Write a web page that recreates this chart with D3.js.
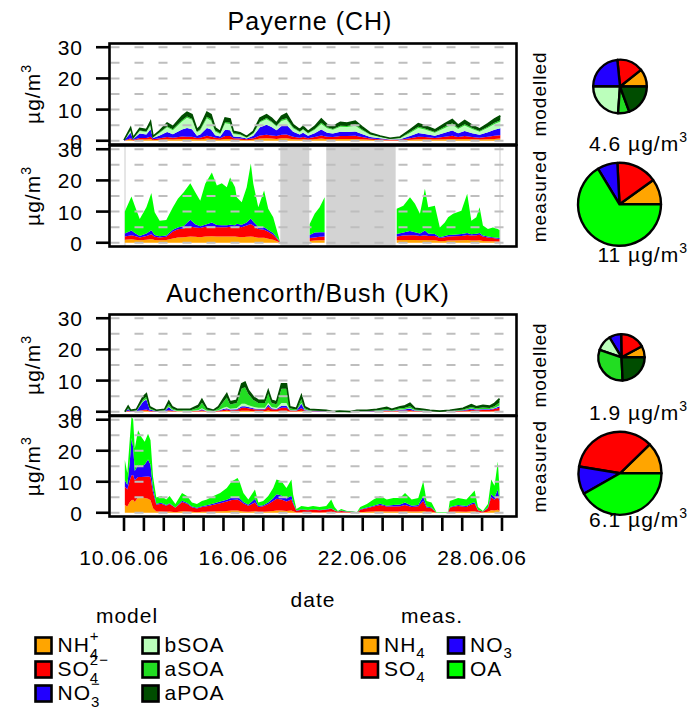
<!DOCTYPE html>
<html><head><meta charset="utf-8">
<script src="https://cdn.jsdelivr.net/npm/d3@7"></script>
<style>
body{margin:0;background:#fff}
text{font-family:"Liberation Sans",Arial,Helvetica,sans-serif;letter-spacing:1px;fill:#000}
</style></head>
<body><svg id="c" width="693" height="711"></svg>
<script>
// ---------- DATA (hours since 10.06.06 00:00 UTC, values in µg/m3) ----------
const dayTicks = [10,11,12,13,14,15,16,17,18,19,20,21,22,23,24,25,26,27,28,29];
const dayLabels = ["10.06.06","16.06.06","22.06.06","28.06.06"];
const yTicks = [0,10,20,30];
const gridVals = [0,5,10,15,20,25,30];

// Payerne modelled
const payModH = [0,8,11,19,27,32,35,43,52,59,70,76,82,88,92,100,105,110,116,122,128,132,140,148,156,164,172,178,184,190,196,204,212,216,222,230,238,245,252,261,269,279,287,297,309,321,333,345,355,363,375,387,396,403,411,420,429,439,447,454];
const payModNH4 = [0,.4,.1,.4,.4,.6,.2,.3,.5,.4, .6,.6,.6,.4,.4,.7,.6,.4,.3,.6, .6,.3,.3,.2,.3,.7,.8,.7,.6,.8, .8,.5,.4,.5,.3,.5,.7,.5,.5,.6, .6,.6,.5,.3,.2,.1,.1,.3,.5,.5, .4,.5,.6,.5,.6,.5,.4,.5,.6,.7];
const payModSO4 = [0,.4,.2,.5,.5,.7,.3,.5,.7,.6, .8,.7,.7,.5,.6,.9,.8,.6,.5,.9, .9,.5,.4,.3,.5,1.0,1.1,1.0,.9,1.1, 1.2,.8,.6,.7,.5,.7,1.0,.8,.7,.9, .9,1.0,.7,.4,.3,.2,.2,.5,.8,.7, .5,.8,1.0,.7,.9,.7,.6,.8,1.0,1.1];
const payModNO3 = [.1,1.8,.3,1.4,1.1,2.4,.4,.9,1.6,1.1, 2.2,2.8,2.4,.7,1.0,2.5,2.2,.8,.6,2.0, 1.9,.6,.5,.2,.8,2.6,3.2,2.7,1.9,2.8, 3.1,1.6,1.0,1.4,.8,1.2,1.9,1.3,1.1,1.4, 1.3,1.4,1.0,.5,.3,.1,.2,.7,1.2,1.0, .7,1.3,1.7,1.2,1.6,1.2,.9,1.4,1.9,2.2];
const payModbSOA = [.05,.7,.2,.8,.8,1.3,.2,.8,1.5,1.3, 2.6,3.3,3.0,1.1,1.4,3.1,2.8,1.2,.8,2.1, 2.0,.8,.7,.3,.7,1.6,1.8,1.5,1.2,1.6, 1.7,1.1,.8,1.0,.7,1.1,1.8,1.4,1.2,1.6, 1.6,1.8,1.2,.7,.4,.2,.3,1.0,1.6,1.4, 1.0,1.5,1.9,1.4,1.8,1.4,1.0,1.5,1.9,2.2];
const payModaSOA = [0,.2,.05,.2,.2,.3,.1,.2,.3,.3, .4,.4,.4,.2,.3,.5,.5,.3,.2,.4, .4,.2,.2,.1,.2,.3,.4,.3,.2,.4, .4,.3,.2,.2,.2,.3,.4,.3,.3,.3, .3,.4,.3,.1,.1,.05,.1,.3,.4,.3, .2,.4,.4,.3,.4,.3,.2,.3,.4,.4];
const payModaPOA = [.05,.7,.15,.7,.6,.9,.2,.5,1.1,.9, 1.3,1.4,1.3,.7,.9,1.5,1.5,.8,.6,1.3, 1.2,.6,.5,.3,.5,1.1,1.1,1.1,.9,1.2, 1.5,.9,.6,.8,.5,.8,1.2,.9,.8,1.1, 1.0,1.1,.8,.5,.2,.15,.3,.7,1.0,.9, .7,1.0,1.2,.9,1.2,.9,.7,1.0,1.2,1.4];

// Payerne measured (null = no data)
const payMeasH = [1,9,13,19,27,33,37,43,51,59,65,72,80,86,92,98,106,112,118,124,128,134,136,142,148,153,156,162,169,174,180,188,200,224,230,236,242,285,329,337,345,351,357,363,367,375,381,387,391,397,407,414,419,425,429,433,439,445,451,453];
const payMeasNH4 = [1.0,1.1,1.0,0.8,1.0,1.2,0.9,0.8,0.9,1.4, 1.7,1.8,2.0,1.9,1.8,2.0,2.1,2.0,2.0,2.0, 2.0,2.0,1.9,1.8,1.9,2.0,1.9,1.6,1.6,1.3, 1.0,0.1,null,0.6,0.7,0.8,0.8,null,0.8,0.9, 0.9,0.9,0.8,0.9,0.8,0.8,0.5,0.6,0.7,0.7, 0.8,0.9,0.7,0.7,0.8,0.6,0.5,0.5,0.4,0.4];
const payMeasSO4 = [1.0,1.3,1.2,0.9,1.2,1.5,1.0,0.9,1.0,2.2, 2.6,2.8,3.2,3.0,2.9,3.1,3.2,3.0,3.0,3.0, 3.1,3.0,3.4,3.2,3.6,4.0,3.6,2.8,2.6,2.2, 1.6,0.2,null,0.9,1.0,1.1,1.2,null,1.2,1.4, 1.5,1.5,1.4,1.5,1.4,1.4,1.0,1.2,1.3,1.4, 1.4,1.6,1.6,1.7,1.8,1.4,1.2,1.0,0.9,0.8];
const payMeasNO3 = [1.0,1.5,0.9,0.5,0.8,1.3,0.6,0.4,0.4,0.6, 0.6,0.8,2.2,1.0,0.6,0.7,1.2,0.7,0.6,0.6, 0.7,0.6,0.8,0.8,1.0,1.8,1.2,0.7,0.8,0.6, 0.5,0.1,null,1.0,1.6,1.5,1.4,null,0.8,1.0, 1.4,1.0,0.8,1.5,0.8,0.6,0.3,0.4,0.5,0.5, 0.6,0.6,0.4,0.5,0.5,0.3,0.3,0.3,0.3,0.3];
const payMeasOA = [7.0,10.9,8.8,5.4,8.4,12.0,7.3,5.0,5.0,7.2, 9.2,10.8,11.7,10.3,8.2,13.1,16.0,12.7,13.5,12.2, 15.1,12.2,8.5,7.2,11.3,17.6,12.2,6.3,11.8,6.8, 5.1,0.2,null,3.5,6.0,8.0,11.2,null,8.1,8.6, 10.8,9.1,6.3,13.4,8.4,9.1,3.1,4.3,5.7,6.7, 7.5,12.6,4.4,5.3,8.3,3.2,2.4,3.1,2.8,2.5];
const payMeasGaps = [[188.5,223.5],[244,327.7]];

// Auchencorth modelled
const aucModH = [1,5,8,15,23,27,31,39,49,54,58,64,80,90,94,100,108,114,120,124,128,136,142,146,150,156,162,170,174,178,184,190,196,200,208,214,218,224,244,252,260,273,281,293,305,317,323,333,338,345,351,361,369,381,393,409,419,425,433,441,447,453];
const aucModNH4 = [0,.1,0,.05,.3,.3,.1,0,.05,.2, .1,.05,.05,.1,.2,.05,0,.1,.2,.3, .2,.2,.3,.3,.3,.2,.2,.2,.4,.2, .2,.3,.3,.1,.1,.3,.1,.05,0,0, 0,0,0,0,.05,.1,.05,.1,.1,.15, .05,.05,0,0,0,.05,.15,.1,.1,.1, .15,.3];
const aucModSO4 = [0,.2,.1,.1,.3,.4,.2,.1,.1,.3, .2,.1,.1,.2,.3,.1,.1,.2,.4,.5, .3,.4,1.0,1.0,.8,.6,.5,.5,1.3,.6, .5,1.0,1.0,.3,.2,.8,.3,.15,.1,0, .05,0,.1,.1,.15,.2,.15,.3,.3,.4, .2,.15,.1,.05,.1,.3,.5,.4,.5,.5, .7,1.0];
const aucModNO3 = [0,.6,.1,.1,2.6,3.2,.4,.05,.1,1.0, .3,.05,.05,.1,.3,.05,0,.1,.3,.3, .2,.2,.5,.5,.4,.3,.2,.2,.6,.3, .2,.6,.6,.1,.1,1.5,.2,.1,.05,0, 0,0,.05,.05,.1,.2,.1,.2,.3,.5, .15,.1,.05,0,.05,.1,.3,.2,.2,.2, .3,.5];
const aucModbSOA = [0,.1,0,.05,.2,.2,.1,.05,.05,.2, .1,.05,.05,.2,.3,.1,.05,.1,.4,.5, .3,.4,.8,.8,.6,.5,.4,.4,.6,.4, .3,.9,.9,.1,.1,.2,.1,.05,0,0, 0,0,0,0,.05,.1,.05,.1,.1,.15, .1,.05,0,0,0,.05,.1,.1,.1,.1, .15,.2];
const aucModaSOA = [0,.4,.1,.2,.5,.7,.3,.1,.2,.8, .4,.25,.25,.8,1.8,.4,.15,.6,1.9,3.0, 1.3,1.6,4.9,5.3,3.6,2.2,1.5,1.5,3.0,1.3, 1.2,4.6,4.6,.5,.2,1.3,.4,.15,.1,0, .05,0,.1,.1,.15,.3,.15,.4,.4,.6, .2,.15,.1,.05,.1,.2,.45,.3,.5,.3, .5,1.0];
const aucModaPOA = [0,.4,.2,.3,.9,1.0,.5,.2,.3,.9, .5,.3,.3,.7,1.1,.4,.2,.5,1.0,1.2, .9,.9,1.5,1.6,1.2,1.0,.9,.9,1.0,.9, .8,1.6,1.6,.5,.4,1.2,.5,.3,.25,.1, .1,.05,.25,.25,.3,.5,.3,.5,.6,.9, .4,.3,.25,.1,.25,.4,.8,.5,.7,.6, .9,1.2];

// Auchencorth measured
const aucMeasH = [1,4,7,9,11,13,17,21,25,29,32,35,39,45,51,55,62,70,76,82,88,94,100,108,116,124,130,134,137,140,144,150,158,162,168,174,180,184,190,196,202,204,208,214,222,228,236,244,250,254,258,262,269,275,281,285,293,301,309,317,325,333,339,347,355,361,365,371,377,391,393,403,413,419,423,427,433,439,443,447,451,453];
const aucMeasNH4 = [2.5,2.0,3.5,4.0,4.2,3.5,5.0,5.0,4.8,4.5, 4.0,1.5,.4,.4,.3,.4,.2,.5,.4,.3, .2,.3,.3,.4,.5,.6,.7,.7,.7,.6, .4,.3,.5,.3,.3,.4,.6,.7,.7,.6, .7,.5,.1,.2,.1,.2,.1,.2,.3,.1, .05,.1,.05,.05,0,.2,.3,.4,.5,.4, .4,.4,.5,.4,.4,.6,.3,.3,0,0, .3,.4,.3,.5,.5,.1,.05,.3,.8,.7, 1.0,.6];
const aucMeasSO4 = [6,5.5,7,8,8,7,6.5,6.5,6.8,7.2, 7.5,5,2.2,2.5,2,2.4,1.4,3,2.5,1.5, 1.2,1.6,1.8,2.2,2.6,3,3.4,3.5,3.6,3.2, 2.6,2,2.8,1.6,1.8,2.4,3.2,3.8,3.6,3, 3.6,2.4,.5,.8,.7,.8,.7,.8,1,.6, .3,.5,.3,.3,.1,.8,1.2,1.6,2,1.6, 1.6,1.7,2,1.5,1.7,3.2,1.4,1.2,0,0, 1.4,1.8,1.6,2.2,2.4,.7,.3,1.2,4.2,3.5, 4.5,3];
const aucMeasNO3 = [2,1.5,6,12,9,3,4,3.5,4,5.5, 4,1.5,.3,.3,.2,.3,.1,.4,.3,.2, .2,.2,.3,.4,.5,.6,.8,.8,.8,.7, .5,.3,1.2,.3,.3,.5,.9,1.5,1.3,1, 1.2,.6,.1,.1,.1,.1,.1,.1,.2,.1, .05,.1,.05,.05,0,.1,.2,.3,.4,.3, .5,.6,.8,.4,.4,1.5,.3,.2,0,0, .2,.3,.3,.4,.5,.1,.05,.2,1,.8, 2,.8];
const aucMeasOA = [6.5,3.8,7.4,6.8,9,7.2,11.1,9.4,7.3,8.3, 7.9,3.7,2,2.2,1.8,2.3,1.1,2.5,2.2,1.3, 1.2,1.7,1.9,2.4,2.8,3.8,5.3,5.7,6.1,5.1, 2.9,1.7,3,1.1,1.4,2.1,3.3,4.7,4.6,3.4, 5.2,2.4,.5,1.1,1,1.1,1,1.1,2.8,1.1, .2,.5,.2,.2,.1,.8,1.1,2,2.5,2, 2.3,2.1,3.1,2,2.3,4.9,1.8,1.6,.2,.2, 1.9,2.3,2.1,2.9,3.8,1,.2,1.1,4.7,3.7, 9,3.1];

// Mean composition (pies), µg/m3
const modKeys = ["NH4","SO4","NO3","bSOA","aSOA","aPOA"];
const measKeys = ["NH4","SO4","NO3","OA"];
const payModPie = [0.49,0.73,1.07,1.10,0.31,0.89];
const payMeasPie = [1.09,1.75,0.86,7.30];
const aucModPie = [0.15,0.33,0.16,0.21,0.59,0.46];
const aucMeasPie = [0.75,2.14,0.66,2.55];
const pieLabels = ["4.6","11","1.9","6.1"];

const modColors = ["#ffa500","#ff0000","#2200ff","#bbffbb","#22dd22","#004d00"];
const measColors = ["#ffa500","#ff0000","#2200ff","#00ff00"];

// ---------- DRAWING ----------
const svg = d3.select("#c");
const t0 = Date.UTC(2006,5,10);
const toDate = h => new Date(t0 + h*3600e3);
const x = d3.scaleUtc().domain([new Date(t0), new Date(Date.UTC(2006,5,29))]).range([124,502]);
const L = 109.5, R = 516.5;

function panel(cfg){
  const y = d3.scaleLinear().domain([-1.2,31.2]).range([cfg.bottom,cfg.top]);
  const g = svg.append("g");
  const id = "clip"+cfg.name;
  svg.append("clipPath").attr("id",id).append("rect")
    .attr("x",L).attr("y",cfg.top).attr("width",R-L).attr("height",cfg.bottom-cfg.top);
  const inner = g.append("g").attr("clip-path",`url(#${id})`);
  (cfg.gaps||[]).forEach(gp=>{
    inner.append("rect").attr("x",x(toDate(gp[0]))).attr("width",x(toDate(gp[1]))-x(toDate(gp[0])))
      .attr("y",cfg.top).attr("height",cfg.bottom-cfg.top).attr("fill","#d3d3d3");
  });
  if(cfg.edges){
    [125,500].forEach(px=>inner.append("line").attr("x1",px).attr("x2",px).attr("y1",cfg.top).attr("y2",cfg.bottom)
      .attr("stroke","#cccccc").attr("stroke-width",1));
  }
  const rows = cfg.hours.map((h,i)=>{const r={date:toDate(h)}; cfg.keys.forEach((k,j)=>r[k]=cfg.series[j][i]); return r;});
  const layers = d3.stack().keys(cfg.keys).value((d,k)=>d[k]==null?NaN:d[k])(rows);
  const area = d3.area().defined(d=>!isNaN(d[1])).x(d=>x(d.data.date)).y0(d=>y(d[0])).y1(d=>y(d[1]));
  inner.selectAll("path.a").data(layers).join("path").attr("class","a")
    .attr("d",area).attr("fill",(d,i)=>cfg.colors[i]).attr("stroke","none");
  if(cfg.outline){
    const top = layers[layers.length-1];
    inner.append("path").attr("d",d3.line().defined(d=>!isNaN(d[1])).x(d=>x(d.data.date)).y(d=>y(d[1]))(top))
      .attr("fill","none").attr("stroke","#004d00").attr("stroke-width",1.6);
  }
  gridVals.forEach(v=>{
    g.append("line").attr("x1",110.5).attr("x2",515).attr("y1",y(v)).attr("y2",y(v))
      .attr("stroke","#bebebe").attr("stroke-width",2).attr("stroke-dasharray","9,15");
  });
  g.append("rect").attr("x",L).attr("y",cfg.top).attr("width",R-L).attr("height",cfg.bottom-cfg.top)
    .attr("fill","none").attr("stroke","#000").attr("stroke-width",2.6);
  yTicks.forEach(v=>{
    g.append("line").attr("x1",96).attr("x2",L).attr("y1",y(v)).attr("y2",y(v)).attr("stroke","#000").attr("stroke-width",2.6);
    g.append("text").attr("x",83).attr("y",y(v)+8).attr("text-anchor","end").attr("font-size",21).text(v);
  });
  const cy=(cfg.top+cfg.bottom)/2;
  const yl = g.append("text").attr("transform",`translate(40,${cy}) rotate(-90)`).attr("text-anchor","middle").attr("font-size",21);
  yl.append("tspan").text("µg/m");
  yl.append("tspan").attr("dy",-9).attr("font-size",14).text("3");
  g.append("text").attr("transform",`translate(546,${cy}) rotate(-90)`).attr("text-anchor","middle")
    .attr("font-size",19).text(cfg.side);
}

panel({name:"p1",top:43.5,bottom:144.5,hours:payModH,keys:modKeys,
  series:[payModNH4,payModSO4,payModNO3,payModbSOA,payModaSOA,payModaPOA],colors:modColors,outline:true,side:"modelled"});
panel({name:"p2",top:145.5,bottom:246.5,hours:payMeasH,keys:measKeys,
  series:[payMeasNH4,payMeasSO4,payMeasNO3,payMeasOA],colors:measColors,gaps:payMeasGaps,edges:true,side:"measured"});
panel({name:"p3",top:314.5,bottom:415.5,hours:aucModH,keys:modKeys,
  series:[aucModNH4,aucModSO4,aucModNO3,aucModbSOA,aucModaSOA,aucModaPOA],colors:modColors,outline:true,side:"modelled"});
panel({name:"p4",top:416,bottom:516.5,hours:aucMeasH,keys:measKeys,
  series:[aucMeasNH4,aucMeasSO4,aucMeasNO3,aucMeasOA],colors:measColors,side:"measured"});

// titles
svg.append("text").attr("x",310).attr("y",30).attr("text-anchor","middle").attr("font-size",25).text("Payerne (CH)");
svg.append("text").attr("x",308).attr("y",302).attr("text-anchor","middle").attr("font-size",25).text("Auchencorth/Bush (UK)");

// bottom axis
dayTicks.forEach(d=>{
  const px = x(new Date(Date.UTC(2006,5,d)));
  svg.append("line").attr("x1",px).attr("x2",px).attr("y1",517.5).attr("y2",531).attr("stroke","#000").attr("stroke-width",2.6);
});
dayLabels.forEach(s=>{
  const d = +s.slice(0,2);
  svg.append("text").attr("x",x(new Date(Date.UTC(2006,5,d)))).attr("y",565).attr("text-anchor","middle").attr("font-size",21).text(s);
});
svg.append("text").attr("x",313).attr("y",607).attr("text-anchor","middle").attr("font-size",21).text("date");

// pies
const rMeas = 41.5;
function pie(cx,cy,vals,cols,r,label,ly){
  const arcs = d3.pie().sort(null).startAngle(Math.PI/2).endAngle(Math.PI/2-2*Math.PI)(vals);
  const arc = d3.arc().innerRadius(0).outerRadius(r);
  const g = svg.append("g").attr("transform",`translate(${cx},${cy})`);
  g.selectAll("path").data(arcs).join("path").attr("d",arc).attr("fill",(d,i)=>cols[i])
    .attr("stroke","#000").attr("stroke-width",2.4).attr("stroke-linejoin","round");
  const t = svg.append("text").attr("x",688).attr("y",ly).attr("text-anchor","end").attr("font-size",21);
  t.append("tspan").text(label+" µg/m");
  t.append("tspan").attr("dy",-9).attr("font-size",14).text("3");
}
const sum = a=>d3.sum(a);
pie(620,86.5,payModPie,modColors,rMeas*Math.sqrt(sum(payModPie)/sum(payMeasPie)),pieLabels[0],151);
pie(619.5,204.3,payMeasPie,measColors,rMeas,pieLabels[1],262);
pie(621.5,357.3,aucModPie,modColors,rMeas*Math.sqrt(sum(aucModPie)/sum(aucMeasPie)),pieLabels[2],420);
pie(620,473.3,aucMeasPie,measColors,rMeas,pieLabels[3],527);

// legend
function item(bx,base,color,main,sub,sup,subDy,supDy){
  svg.append("rect").attr("x",bx).attr("y",base-14.5).attr("width",16).attr("height",16)
    .attr("fill",color).attr("stroke","#000").attr("stroke-width",2.6);
  const t = svg.append("text").attr("x",bx+22).attr("y",base).attr("font-size",21).text(main);
  const w = t.node().getComputedTextLength();
  if(sub) svg.append("text").attr("x",bx+22+w).attr("y",base+subDy).attr("font-size",15).text(sub);
  if(sup) svg.append("text").attr("x",bx+22+w).attr("y",base+supDy).attr("font-size",15).text(sup);
}
svg.append("text").attr("x",127).attr("y",623).attr("text-anchor","middle").attr("font-size",21).text("model");
svg.append("text").attr("x",432).attr("y",623).attr("text-anchor","middle").attr("font-size",21).text("meas.");
const modLabels = [["NH","4","+"],["SO","4","2\u2212"],["NO","3","\u2212"]];
modLabels.forEach((l,i)=>item(35.5,652+i*24,modColors[i],l[0],l[1],l[2],7,-11));
["bSOA","aSOA","aPOA"].forEach((l,i)=>item(142.5,652+i*24,modColors[3+i],l,null,null));
item(362,652,measColors[0],"NH","4",null,6);
item(362,676,measColors[1],"SO","4",null,6);
item(448,652,measColors[2],"NO","3",null,6);
item(448,676,measColors[3],"OA",null,null);
</script></body></html>
